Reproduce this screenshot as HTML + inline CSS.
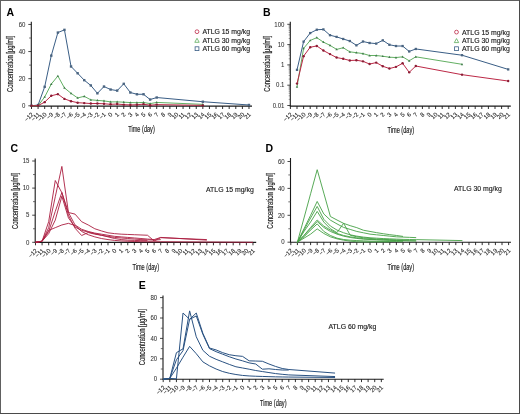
<!DOCTYPE html><html><head><meta charset="utf-8"><style>*{margin:0;padding:0}html,body{width:520px;height:414px;overflow:hidden;background:#fff}
svg{display:block;font-family:"Liberation Sans",sans-serif;will-change:transform}
body{-webkit-font-smoothing:antialiased}
.tl{font-size:6.4px;fill:#333;stroke:#333;stroke-width:0.06px}
.xl{font-size:6px;fill:#2a2a2a;stroke:#2a2a2a;stroke-width:0.1px}
.tt{font-size:8.4px;fill:#222;stroke:#222;stroke-width:0.18px}
.lg{font-size:6.9px;fill:#222;stroke:#222;stroke-width:0.15px}
.let{font-size:10.5px;font-weight:bold;fill:#000}
</style></head><body><svg width="520" height="414" viewBox="0 0 520 414"><rect x="0" y="0" width="520" height="414" fill="#fff"/><path d="M31.3 21.7V106.1H252" fill="none" stroke="#1a1a1a" stroke-width="1.1"/><text x="0" y="0" transform="translate(33.9 114.8) rotate(-45)" text-anchor="end" class="xl">−12</text><text x="0" y="0" transform="translate(40.49 114.8) rotate(-45)" text-anchor="end" class="xl">−11</text><text x="0" y="0" transform="translate(47.08 114.8) rotate(-45)" text-anchor="end" class="xl">−10</text><text x="0" y="0" transform="translate(53.67 114.8) rotate(-45)" text-anchor="end" class="xl">−9</text><text x="0" y="0" transform="translate(60.26 114.8) rotate(-45)" text-anchor="end" class="xl">−8</text><text x="0" y="0" transform="translate(66.85 114.8) rotate(-45)" text-anchor="end" class="xl">−7</text><text x="0" y="0" transform="translate(73.44 114.8) rotate(-45)" text-anchor="end" class="xl">−6</text><text x="0" y="0" transform="translate(80.03 114.8) rotate(-45)" text-anchor="end" class="xl">−5</text><text x="0" y="0" transform="translate(86.62 114.8) rotate(-45)" text-anchor="end" class="xl">−4</text><text x="0" y="0" transform="translate(93.21 114.8) rotate(-45)" text-anchor="end" class="xl">−3</text><text x="0" y="0" transform="translate(99.8 114.8) rotate(-45)" text-anchor="end" class="xl">−2</text><text x="0" y="0" transform="translate(106.39 114.8) rotate(-45)" text-anchor="end" class="xl">−1</text><text x="0" y="0" transform="translate(112.98 114.8) rotate(-45)" text-anchor="end" class="xl">0</text><text x="0" y="0" transform="translate(119.57 114.8) rotate(-45)" text-anchor="end" class="xl">1</text><text x="0" y="0" transform="translate(126.16 114.8) rotate(-45)" text-anchor="end" class="xl">2</text><text x="0" y="0" transform="translate(132.75 114.8) rotate(-45)" text-anchor="end" class="xl">3</text><text x="0" y="0" transform="translate(139.34 114.8) rotate(-45)" text-anchor="end" class="xl">4</text><text x="0" y="0" transform="translate(145.93 114.8) rotate(-45)" text-anchor="end" class="xl">5</text><text x="0" y="0" transform="translate(152.52 114.8) rotate(-45)" text-anchor="end" class="xl">6</text><text x="0" y="0" transform="translate(159.11 114.8) rotate(-45)" text-anchor="end" class="xl">7</text><text x="0" y="0" transform="translate(165.7 114.8) rotate(-45)" text-anchor="end" class="xl">8</text><text x="0" y="0" transform="translate(172.29 114.8) rotate(-45)" text-anchor="end" class="xl">9</text><text x="0" y="0" transform="translate(178.88 114.8) rotate(-45)" text-anchor="end" class="xl">10</text><text x="0" y="0" transform="translate(185.47 114.8) rotate(-45)" text-anchor="end" class="xl">11</text><text x="0" y="0" transform="translate(192.06 114.8) rotate(-45)" text-anchor="end" class="xl">12</text><text x="0" y="0" transform="translate(198.65 114.8) rotate(-45)" text-anchor="end" class="xl">13</text><text x="0" y="0" transform="translate(205.24 114.8) rotate(-45)" text-anchor="end" class="xl">14</text><text x="0" y="0" transform="translate(211.83 114.8) rotate(-45)" text-anchor="end" class="xl">15</text><text x="0" y="0" transform="translate(218.42 114.8) rotate(-45)" text-anchor="end" class="xl">16</text><text x="0" y="0" transform="translate(225.01 114.8) rotate(-45)" text-anchor="end" class="xl">17</text><text x="0" y="0" transform="translate(231.6 114.8) rotate(-45)" text-anchor="end" class="xl">18</text><text x="0" y="0" transform="translate(238.19 114.8) rotate(-45)" text-anchor="end" class="xl">19</text><text x="0" y="0" transform="translate(244.78 114.8) rotate(-45)" text-anchor="end" class="xl">20</text><text x="0" y="0" transform="translate(251.37 114.8) rotate(-45)" text-anchor="end" class="xl">21</text><path d="M31.5 106.1v2.9M38.09 106.1v2.9M44.68 106.1v2.9M51.27 106.1v2.9M57.86 106.1v2.9M64.45 106.1v2.9M71.04 106.1v2.9M77.63 106.1v2.9M84.22 106.1v2.9M90.81 106.1v2.9M97.4 106.1v2.9M103.99 106.1v2.9M110.58 106.1v2.9M117.17 106.1v2.9M123.76 106.1v2.9M130.35 106.1v2.9M136.94 106.1v2.9M143.53 106.1v2.9M150.12 106.1v2.9M156.71 106.1v2.9M163.3 106.1v2.9M169.89 106.1v2.9M176.48 106.1v2.9M183.07 106.1v2.9M189.66 106.1v2.9M196.25 106.1v2.9M202.84 106.1v2.9M209.43 106.1v2.9M216.02 106.1v2.9M222.61 106.1v2.9M229.2 106.1v2.9M235.79 106.1v2.9M242.38 106.1v2.9M248.97 106.1v2.9" stroke="#1a1a1a" stroke-width="0.9"/><text transform="translate(25.5 108) scale(0.95 1)" text-anchor="end" class="tl">0</text><text transform="translate(25.5 80.88) scale(0.95 1)" text-anchor="end" class="tl">20</text><text transform="translate(25.5 53.76) scale(0.95 1)" text-anchor="end" class="tl">40</text><text transform="translate(25.5 26.64) scale(0.95 1)" text-anchor="end" class="tl">60</text><path d="M28.3 105.8H31.3M28.3 78.68H31.3M28.3 51.56H31.3M28.3 24.44H31.3" stroke="#1a1a1a" stroke-width="0.8"/><path d="M29.1 92.24H31.3M29.1 65.12H31.3M29.1 38H31.3" stroke="#444" stroke-width="0.75"/><text transform="translate(13.2 63.9) rotate(-90) scale(0.7 1)" text-anchor="middle" class="tt">Concentration [µg/ml]</text><text transform="translate(141.5 132.1) scale(0.668 1)" text-anchor="middle" class="tt">Time (day)</text><text x="6.6" y="15.5" class="let">A</text><path d="M290.3 21.7V106.1H510.8" fill="none" stroke="#1a1a1a" stroke-width="1.1"/><text x="0" y="0" transform="translate(292.8 114.8) rotate(-45)" text-anchor="end" class="xl">−12</text><text x="0" y="0" transform="translate(299.4 114.8) rotate(-45)" text-anchor="end" class="xl">−11</text><text x="0" y="0" transform="translate(306 114.8) rotate(-45)" text-anchor="end" class="xl">−10</text><text x="0" y="0" transform="translate(312.6 114.8) rotate(-45)" text-anchor="end" class="xl">−9</text><text x="0" y="0" transform="translate(319.2 114.8) rotate(-45)" text-anchor="end" class="xl">−8</text><text x="0" y="0" transform="translate(325.8 114.8) rotate(-45)" text-anchor="end" class="xl">−7</text><text x="0" y="0" transform="translate(332.4 114.8) rotate(-45)" text-anchor="end" class="xl">−6</text><text x="0" y="0" transform="translate(339 114.8) rotate(-45)" text-anchor="end" class="xl">−5</text><text x="0" y="0" transform="translate(345.6 114.8) rotate(-45)" text-anchor="end" class="xl">−4</text><text x="0" y="0" transform="translate(352.2 114.8) rotate(-45)" text-anchor="end" class="xl">−3</text><text x="0" y="0" transform="translate(358.8 114.8) rotate(-45)" text-anchor="end" class="xl">−2</text><text x="0" y="0" transform="translate(365.4 114.8) rotate(-45)" text-anchor="end" class="xl">−1</text><text x="0" y="0" transform="translate(372 114.8) rotate(-45)" text-anchor="end" class="xl">0</text><text x="0" y="0" transform="translate(378.6 114.8) rotate(-45)" text-anchor="end" class="xl">1</text><text x="0" y="0" transform="translate(385.2 114.8) rotate(-45)" text-anchor="end" class="xl">2</text><text x="0" y="0" transform="translate(391.8 114.8) rotate(-45)" text-anchor="end" class="xl">3</text><text x="0" y="0" transform="translate(398.4 114.8) rotate(-45)" text-anchor="end" class="xl">4</text><text x="0" y="0" transform="translate(405 114.8) rotate(-45)" text-anchor="end" class="xl">5</text><text x="0" y="0" transform="translate(411.6 114.8) rotate(-45)" text-anchor="end" class="xl">6</text><text x="0" y="0" transform="translate(418.2 114.8) rotate(-45)" text-anchor="end" class="xl">7</text><text x="0" y="0" transform="translate(424.8 114.8) rotate(-45)" text-anchor="end" class="xl">8</text><text x="0" y="0" transform="translate(431.4 114.8) rotate(-45)" text-anchor="end" class="xl">9</text><text x="0" y="0" transform="translate(438 114.8) rotate(-45)" text-anchor="end" class="xl">10</text><text x="0" y="0" transform="translate(444.6 114.8) rotate(-45)" text-anchor="end" class="xl">11</text><text x="0" y="0" transform="translate(451.2 114.8) rotate(-45)" text-anchor="end" class="xl">12</text><text x="0" y="0" transform="translate(457.8 114.8) rotate(-45)" text-anchor="end" class="xl">13</text><text x="0" y="0" transform="translate(464.4 114.8) rotate(-45)" text-anchor="end" class="xl">14</text><text x="0" y="0" transform="translate(471 114.8) rotate(-45)" text-anchor="end" class="xl">15</text><text x="0" y="0" transform="translate(477.6 114.8) rotate(-45)" text-anchor="end" class="xl">16</text><text x="0" y="0" transform="translate(484.2 114.8) rotate(-45)" text-anchor="end" class="xl">17</text><text x="0" y="0" transform="translate(490.8 114.8) rotate(-45)" text-anchor="end" class="xl">18</text><text x="0" y="0" transform="translate(497.4 114.8) rotate(-45)" text-anchor="end" class="xl">19</text><text x="0" y="0" transform="translate(504 114.8) rotate(-45)" text-anchor="end" class="xl">20</text><text x="0" y="0" transform="translate(510.6 114.8) rotate(-45)" text-anchor="end" class="xl">21</text><path d="M290.4 106.1v2.9M297 106.1v2.9M303.6 106.1v2.9M310.2 106.1v2.9M316.8 106.1v2.9M323.4 106.1v2.9M330 106.1v2.9M336.6 106.1v2.9M343.2 106.1v2.9M349.8 106.1v2.9M356.4 106.1v2.9M363 106.1v2.9M369.6 106.1v2.9M376.2 106.1v2.9M382.8 106.1v2.9M389.4 106.1v2.9M396 106.1v2.9M402.6 106.1v2.9M409.2 106.1v2.9M415.8 106.1v2.9M422.4 106.1v2.9M429 106.1v2.9M435.6 106.1v2.9M442.2 106.1v2.9M448.8 106.1v2.9M455.4 106.1v2.9M462 106.1v2.9M468.6 106.1v2.9M475.2 106.1v2.9M481.8 106.1v2.9M488.4 106.1v2.9M495 106.1v2.9M501.6 106.1v2.9M508.2 106.1v2.9" stroke="#1a1a1a" stroke-width="0.9"/><text transform="translate(284.5 107.7) scale(0.95 1)" text-anchor="end" class="tl">0.01</text><text transform="translate(284.5 87.4) scale(0.95 1)" text-anchor="end" class="tl">0.1</text><text transform="translate(284.5 67.1) scale(0.95 1)" text-anchor="end" class="tl">1</text><text transform="translate(284.5 46.8) scale(0.95 1)" text-anchor="end" class="tl">10</text><text transform="translate(284.5 26.5) scale(0.95 1)" text-anchor="end" class="tl">100</text><path d="M287.3 105.5H290.3M287.3 85.2H290.3M287.3 64.9H290.3M287.3 44.6H290.3M287.3 24.3H290.3" stroke="#1a1a1a" stroke-width="0.8"/><path d="M288.7 99.39H290.3M288.7 95.81H290.3M288.7 93.28H290.3M288.7 91.31H290.3M288.7 89.7H290.3M288.7 88.34H290.3M288.7 87.17H290.3M288.7 86.13H290.3M288.7 79.09H290.3M288.7 75.51H290.3M288.7 72.98H290.3M288.7 71.01H290.3M288.7 69.4H290.3M288.7 68.04H290.3M288.7 66.87H290.3M288.7 65.83H290.3M288.7 58.79H290.3M288.7 55.21H290.3M288.7 52.68H290.3M288.7 50.71H290.3M288.7 49.1H290.3M288.7 47.74H290.3M288.7 46.57H290.3M288.7 45.53H290.3M288.7 38.49H290.3M288.7 34.91H290.3M288.7 32.38H290.3M288.7 30.41H290.3M288.7 28.8H290.3M288.7 27.44H290.3M288.7 26.27H290.3M288.7 25.23H290.3" stroke="#555" stroke-width="0.6"/><text transform="translate(270.3 63.8) rotate(-90) scale(0.7 1)" text-anchor="middle" class="tt">Concentration [µg/ml]</text><text transform="translate(400.8 132.6) scale(0.668 1)" text-anchor="middle" class="tt">Time (day)</text><text x="263" y="15.8" class="let">B</text><path d="M35.2 158.5V242.4H256.2" fill="none" stroke="#1a1a1a" stroke-width="1.1"/><text x="0" y="0" transform="translate(37.9 251.1) rotate(-45)" text-anchor="end" class="xl">−12</text><text x="0" y="0" transform="translate(44.49 251.1) rotate(-45)" text-anchor="end" class="xl">−11</text><text x="0" y="0" transform="translate(51.08 251.1) rotate(-45)" text-anchor="end" class="xl">−10</text><text x="0" y="0" transform="translate(57.67 251.1) rotate(-45)" text-anchor="end" class="xl">−9</text><text x="0" y="0" transform="translate(64.26 251.1) rotate(-45)" text-anchor="end" class="xl">−8</text><text x="0" y="0" transform="translate(70.85 251.1) rotate(-45)" text-anchor="end" class="xl">−7</text><text x="0" y="0" transform="translate(77.44 251.1) rotate(-45)" text-anchor="end" class="xl">−6</text><text x="0" y="0" transform="translate(84.03 251.1) rotate(-45)" text-anchor="end" class="xl">−5</text><text x="0" y="0" transform="translate(90.62 251.1) rotate(-45)" text-anchor="end" class="xl">−4</text><text x="0" y="0" transform="translate(97.21 251.1) rotate(-45)" text-anchor="end" class="xl">−3</text><text x="0" y="0" transform="translate(103.8 251.1) rotate(-45)" text-anchor="end" class="xl">−2</text><text x="0" y="0" transform="translate(110.39 251.1) rotate(-45)" text-anchor="end" class="xl">−1</text><text x="0" y="0" transform="translate(116.98 251.1) rotate(-45)" text-anchor="end" class="xl">0</text><text x="0" y="0" transform="translate(123.57 251.1) rotate(-45)" text-anchor="end" class="xl">1</text><text x="0" y="0" transform="translate(130.16 251.1) rotate(-45)" text-anchor="end" class="xl">2</text><text x="0" y="0" transform="translate(136.75 251.1) rotate(-45)" text-anchor="end" class="xl">3</text><text x="0" y="0" transform="translate(143.34 251.1) rotate(-45)" text-anchor="end" class="xl">4</text><text x="0" y="0" transform="translate(149.93 251.1) rotate(-45)" text-anchor="end" class="xl">5</text><text x="0" y="0" transform="translate(156.52 251.1) rotate(-45)" text-anchor="end" class="xl">6</text><text x="0" y="0" transform="translate(163.11 251.1) rotate(-45)" text-anchor="end" class="xl">7</text><text x="0" y="0" transform="translate(169.7 251.1) rotate(-45)" text-anchor="end" class="xl">8</text><text x="0" y="0" transform="translate(176.29 251.1) rotate(-45)" text-anchor="end" class="xl">9</text><text x="0" y="0" transform="translate(182.88 251.1) rotate(-45)" text-anchor="end" class="xl">10</text><text x="0" y="0" transform="translate(189.47 251.1) rotate(-45)" text-anchor="end" class="xl">11</text><text x="0" y="0" transform="translate(196.06 251.1) rotate(-45)" text-anchor="end" class="xl">12</text><text x="0" y="0" transform="translate(202.65 251.1) rotate(-45)" text-anchor="end" class="xl">13</text><text x="0" y="0" transform="translate(209.24 251.1) rotate(-45)" text-anchor="end" class="xl">14</text><text x="0" y="0" transform="translate(215.83 251.1) rotate(-45)" text-anchor="end" class="xl">15</text><text x="0" y="0" transform="translate(222.42 251.1) rotate(-45)" text-anchor="end" class="xl">16</text><text x="0" y="0" transform="translate(229.01 251.1) rotate(-45)" text-anchor="end" class="xl">17</text><text x="0" y="0" transform="translate(235.6 251.1) rotate(-45)" text-anchor="end" class="xl">18</text><text x="0" y="0" transform="translate(242.19 251.1) rotate(-45)" text-anchor="end" class="xl">19</text><text x="0" y="0" transform="translate(248.78 251.1) rotate(-45)" text-anchor="end" class="xl">20</text><text x="0" y="0" transform="translate(255.37 251.1) rotate(-45)" text-anchor="end" class="xl">21</text><path d="M35.5 242.4v2.9M42.09 242.4v2.9M48.68 242.4v2.9M55.27 242.4v2.9M61.86 242.4v2.9M68.45 242.4v2.9M75.04 242.4v2.9M81.63 242.4v2.9M88.22 242.4v2.9M94.81 242.4v2.9M101.4 242.4v2.9M107.99 242.4v2.9M114.58 242.4v2.9M121.17 242.4v2.9M127.76 242.4v2.9M134.35 242.4v2.9M140.94 242.4v2.9M147.53 242.4v2.9M154.12 242.4v2.9M160.71 242.4v2.9M167.3 242.4v2.9M173.89 242.4v2.9M180.48 242.4v2.9M187.07 242.4v2.9M193.66 242.4v2.9M200.25 242.4v2.9M206.84 242.4v2.9M213.43 242.4v2.9M220.02 242.4v2.9M226.61 242.4v2.9M233.2 242.4v2.9M239.79 242.4v2.9M246.38 242.4v2.9M252.97 242.4v2.9" stroke="#1a1a1a" stroke-width="0.9"/><text transform="translate(29.4 244.5) scale(0.95 1)" text-anchor="end" class="tl">0</text><text transform="translate(29.4 217.4) scale(0.95 1)" text-anchor="end" class="tl">5</text><text transform="translate(29.4 190.3) scale(0.95 1)" text-anchor="end" class="tl">10</text><text transform="translate(29.4 163.2) scale(0.95 1)" text-anchor="end" class="tl">15</text><path d="M32.2 242.3H35.2M32.2 215.2H35.2M32.2 188.1H35.2M32.2 161H35.2" stroke="#1a1a1a" stroke-width="0.8"/><path d="M33 228.75H35.2M33 201.65H35.2M33 174.55H35.2" stroke="#444" stroke-width="0.75"/><text transform="translate(18 200.9) rotate(-90) scale(0.7 1)" text-anchor="middle" class="tt">Concentration [µg/ml]</text><text transform="translate(145.75 269.5) scale(0.668 1)" text-anchor="middle" class="tt">Time (day)</text><text x="10.4" y="152.2" class="let">C</text><path d="M290.5 158V242.2H511" fill="none" stroke="#1a1a1a" stroke-width="1.1"/><text x="0" y="0" transform="translate(293.2 250.9) rotate(-45)" text-anchor="end" class="xl">−12</text><text x="0" y="0" transform="translate(299.8 250.9) rotate(-45)" text-anchor="end" class="xl">−11</text><text x="0" y="0" transform="translate(306.4 250.9) rotate(-45)" text-anchor="end" class="xl">−10</text><text x="0" y="0" transform="translate(313 250.9) rotate(-45)" text-anchor="end" class="xl">−9</text><text x="0" y="0" transform="translate(319.6 250.9) rotate(-45)" text-anchor="end" class="xl">−8</text><text x="0" y="0" transform="translate(326.2 250.9) rotate(-45)" text-anchor="end" class="xl">−7</text><text x="0" y="0" transform="translate(332.8 250.9) rotate(-45)" text-anchor="end" class="xl">−6</text><text x="0" y="0" transform="translate(339.4 250.9) rotate(-45)" text-anchor="end" class="xl">−5</text><text x="0" y="0" transform="translate(346 250.9) rotate(-45)" text-anchor="end" class="xl">−4</text><text x="0" y="0" transform="translate(352.6 250.9) rotate(-45)" text-anchor="end" class="xl">−3</text><text x="0" y="0" transform="translate(359.2 250.9) rotate(-45)" text-anchor="end" class="xl">−2</text><text x="0" y="0" transform="translate(365.8 250.9) rotate(-45)" text-anchor="end" class="xl">−1</text><text x="0" y="0" transform="translate(372.4 250.9) rotate(-45)" text-anchor="end" class="xl">0</text><text x="0" y="0" transform="translate(379 250.9) rotate(-45)" text-anchor="end" class="xl">1</text><text x="0" y="0" transform="translate(385.6 250.9) rotate(-45)" text-anchor="end" class="xl">2</text><text x="0" y="0" transform="translate(392.2 250.9) rotate(-45)" text-anchor="end" class="xl">3</text><text x="0" y="0" transform="translate(398.8 250.9) rotate(-45)" text-anchor="end" class="xl">4</text><text x="0" y="0" transform="translate(405.4 250.9) rotate(-45)" text-anchor="end" class="xl">5</text><text x="0" y="0" transform="translate(412 250.9) rotate(-45)" text-anchor="end" class="xl">6</text><text x="0" y="0" transform="translate(418.6 250.9) rotate(-45)" text-anchor="end" class="xl">7</text><text x="0" y="0" transform="translate(425.2 250.9) rotate(-45)" text-anchor="end" class="xl">8</text><text x="0" y="0" transform="translate(431.8 250.9) rotate(-45)" text-anchor="end" class="xl">9</text><text x="0" y="0" transform="translate(438.4 250.9) rotate(-45)" text-anchor="end" class="xl">10</text><text x="0" y="0" transform="translate(445 250.9) rotate(-45)" text-anchor="end" class="xl">11</text><text x="0" y="0" transform="translate(451.6 250.9) rotate(-45)" text-anchor="end" class="xl">12</text><text x="0" y="0" transform="translate(458.2 250.9) rotate(-45)" text-anchor="end" class="xl">13</text><text x="0" y="0" transform="translate(464.8 250.9) rotate(-45)" text-anchor="end" class="xl">14</text><text x="0" y="0" transform="translate(471.4 250.9) rotate(-45)" text-anchor="end" class="xl">15</text><text x="0" y="0" transform="translate(478 250.9) rotate(-45)" text-anchor="end" class="xl">16</text><text x="0" y="0" transform="translate(484.6 250.9) rotate(-45)" text-anchor="end" class="xl">17</text><text x="0" y="0" transform="translate(491.2 250.9) rotate(-45)" text-anchor="end" class="xl">18</text><text x="0" y="0" transform="translate(497.8 250.9) rotate(-45)" text-anchor="end" class="xl">19</text><text x="0" y="0" transform="translate(504.4 250.9) rotate(-45)" text-anchor="end" class="xl">20</text><text x="0" y="0" transform="translate(511 250.9) rotate(-45)" text-anchor="end" class="xl">21</text><path d="M290.8 242.2v2.9M297.4 242.2v2.9M304 242.2v2.9M310.6 242.2v2.9M317.2 242.2v2.9M323.8 242.2v2.9M330.4 242.2v2.9M337 242.2v2.9M343.6 242.2v2.9M350.2 242.2v2.9M356.8 242.2v2.9M363.4 242.2v2.9M370 242.2v2.9M376.6 242.2v2.9M383.2 242.2v2.9M389.8 242.2v2.9M396.4 242.2v2.9M403 242.2v2.9M409.6 242.2v2.9M416.2 242.2v2.9M422.8 242.2v2.9M429.4 242.2v2.9M436 242.2v2.9M442.6 242.2v2.9M449.2 242.2v2.9M455.8 242.2v2.9M462.4 242.2v2.9M469 242.2v2.9M475.6 242.2v2.9M482.2 242.2v2.9M488.8 242.2v2.9M495.4 242.2v2.9M502 242.2v2.9M508.6 242.2v2.9" stroke="#1a1a1a" stroke-width="0.9"/><text transform="translate(284.7 244.4) scale(0.95 1)" text-anchor="end" class="tl">0</text><text transform="translate(284.7 217.5) scale(0.95 1)" text-anchor="end" class="tl">20</text><text transform="translate(284.7 190.6) scale(0.95 1)" text-anchor="end" class="tl">40</text><text transform="translate(284.7 163.7) scale(0.95 1)" text-anchor="end" class="tl">60</text><path d="M287.5 242.2H290.5M287.5 215.3H290.5M287.5 188.4H290.5M287.5 161.5H290.5" stroke="#1a1a1a" stroke-width="0.8"/><path d="M288.3 228.75H290.5M288.3 201.85H290.5M288.3 174.95H290.5" stroke="#444" stroke-width="0.75"/><text transform="translate(272.9 200.8) rotate(-90) scale(0.7 1)" text-anchor="middle" class="tt">Concentration [µg/ml]</text><text transform="translate(400.75 269.5) scale(0.668 1)" text-anchor="middle" class="tt">Time (day)</text><text x="265.5" y="152.2" class="let">D</text><path d="M163 295.5V379.2H383.7" fill="none" stroke="#1a1a1a" stroke-width="1.1"/><text x="0" y="0" transform="translate(165.6 387.9) rotate(-45)" text-anchor="end" class="xl">−12</text><text x="0" y="0" transform="translate(172.21 387.9) rotate(-45)" text-anchor="end" class="xl">−11</text><text x="0" y="0" transform="translate(178.82 387.9) rotate(-45)" text-anchor="end" class="xl">−10</text><text x="0" y="0" transform="translate(185.43 387.9) rotate(-45)" text-anchor="end" class="xl">−9</text><text x="0" y="0" transform="translate(192.04 387.9) rotate(-45)" text-anchor="end" class="xl">−8</text><text x="0" y="0" transform="translate(198.65 387.9) rotate(-45)" text-anchor="end" class="xl">−7</text><text x="0" y="0" transform="translate(205.26 387.9) rotate(-45)" text-anchor="end" class="xl">−6</text><text x="0" y="0" transform="translate(211.87 387.9) rotate(-45)" text-anchor="end" class="xl">−5</text><text x="0" y="0" transform="translate(218.48 387.9) rotate(-45)" text-anchor="end" class="xl">−4</text><text x="0" y="0" transform="translate(225.09 387.9) rotate(-45)" text-anchor="end" class="xl">−3</text><text x="0" y="0" transform="translate(231.7 387.9) rotate(-45)" text-anchor="end" class="xl">−2</text><text x="0" y="0" transform="translate(238.31 387.9) rotate(-45)" text-anchor="end" class="xl">−1</text><text x="0" y="0" transform="translate(244.92 387.9) rotate(-45)" text-anchor="end" class="xl">0</text><text x="0" y="0" transform="translate(251.53 387.9) rotate(-45)" text-anchor="end" class="xl">1</text><text x="0" y="0" transform="translate(258.14 387.9) rotate(-45)" text-anchor="end" class="xl">2</text><text x="0" y="0" transform="translate(264.75 387.9) rotate(-45)" text-anchor="end" class="xl">3</text><text x="0" y="0" transform="translate(271.36 387.9) rotate(-45)" text-anchor="end" class="xl">4</text><text x="0" y="0" transform="translate(277.97 387.9) rotate(-45)" text-anchor="end" class="xl">5</text><text x="0" y="0" transform="translate(284.58 387.9) rotate(-45)" text-anchor="end" class="xl">6</text><text x="0" y="0" transform="translate(291.19 387.9) rotate(-45)" text-anchor="end" class="xl">7</text><text x="0" y="0" transform="translate(297.8 387.9) rotate(-45)" text-anchor="end" class="xl">8</text><text x="0" y="0" transform="translate(304.41 387.9) rotate(-45)" text-anchor="end" class="xl">9</text><text x="0" y="0" transform="translate(311.02 387.9) rotate(-45)" text-anchor="end" class="xl">10</text><text x="0" y="0" transform="translate(317.63 387.9) rotate(-45)" text-anchor="end" class="xl">11</text><text x="0" y="0" transform="translate(324.24 387.9) rotate(-45)" text-anchor="end" class="xl">12</text><text x="0" y="0" transform="translate(330.85 387.9) rotate(-45)" text-anchor="end" class="xl">13</text><text x="0" y="0" transform="translate(337.46 387.9) rotate(-45)" text-anchor="end" class="xl">14</text><text x="0" y="0" transform="translate(344.07 387.9) rotate(-45)" text-anchor="end" class="xl">15</text><text x="0" y="0" transform="translate(350.68 387.9) rotate(-45)" text-anchor="end" class="xl">16</text><text x="0" y="0" transform="translate(357.29 387.9) rotate(-45)" text-anchor="end" class="xl">17</text><text x="0" y="0" transform="translate(363.9 387.9) rotate(-45)" text-anchor="end" class="xl">18</text><text x="0" y="0" transform="translate(370.51 387.9) rotate(-45)" text-anchor="end" class="xl">19</text><text x="0" y="0" transform="translate(377.12 387.9) rotate(-45)" text-anchor="end" class="xl">20</text><text x="0" y="0" transform="translate(383.73 387.9) rotate(-45)" text-anchor="end" class="xl">21</text><path d="M163.2 379.2v2.9M169.81 379.2v2.9M176.42 379.2v2.9M183.03 379.2v2.9M189.64 379.2v2.9M196.25 379.2v2.9M202.86 379.2v2.9M209.47 379.2v2.9M216.08 379.2v2.9M222.69 379.2v2.9M229.3 379.2v2.9M235.91 379.2v2.9M242.52 379.2v2.9M249.13 379.2v2.9M255.74 379.2v2.9M262.35 379.2v2.9M268.96 379.2v2.9M275.57 379.2v2.9M282.18 379.2v2.9M288.79 379.2v2.9M295.4 379.2v2.9M302.01 379.2v2.9M308.62 379.2v2.9M315.23 379.2v2.9M321.84 379.2v2.9M328.45 379.2v2.9M335.06 379.2v2.9M341.67 379.2v2.9M348.28 379.2v2.9M354.89 379.2v2.9M361.5 379.2v2.9M368.11 379.2v2.9M374.72 379.2v2.9M381.33 379.2v2.9" stroke="#1a1a1a" stroke-width="0.9"/><text transform="translate(157.2 381.4) scale(0.95 1)" text-anchor="end" class="tl">0</text><text transform="translate(157.2 361) scale(0.95 1)" text-anchor="end" class="tl">20</text><text transform="translate(157.2 340.6) scale(0.95 1)" text-anchor="end" class="tl">40</text><text transform="translate(157.2 320.2) scale(0.95 1)" text-anchor="end" class="tl">60</text><text transform="translate(157.2 299.8) scale(0.95 1)" text-anchor="end" class="tl">80</text><path d="M160 379.2H163M160 358.8H163M160 338.4H163M160 318H163M160 297.6H163" stroke="#1a1a1a" stroke-width="0.8"/><path d="M160.8 369H163M160.8 348.6H163M160.8 328.2H163M160.8 307.8H163" stroke="#444" stroke-width="0.75"/><text transform="translate(145.2 337.2) rotate(-90) scale(0.7 1)" text-anchor="middle" class="tt">Concentration [µg/ml]</text><text transform="translate(273.25 405.6) scale(0.668 1)" text-anchor="middle" class="tt">Time (day)</text><text x="138.8" y="289.1" class="let">E</text><polyline points="31.5,105.8 38.09,105.03 44.68,86.82 51.27,55.63 57.86,32.58 64.45,29.86 71.04,66.48 77.63,73.26 84.22,80.17 90.81,85.46 97.4,93.32 103.99,86.54 110.58,89.53 117.17,90.61 123.76,83.83 130.35,92.51 136.94,94.27 143.53,94.27 150.12,99.56 156.71,97.53 202.84,101.73 248.97,104.99" fill="none" stroke="#3a5e86" stroke-width="1.0" stroke-linejoin="round"/><rect x="30.3" y="104.6" width="2.4" height="2.4" fill="#4a6480"/><rect x="36.89" y="103.83" width="2.4" height="2.4" fill="#4a6480"/><rect x="43.48" y="85.62" width="2.4" height="2.4" fill="#4a6480"/><rect x="50.07" y="54.43" width="2.4" height="2.4" fill="#4a6480"/><rect x="56.66" y="31.38" width="2.4" height="2.4" fill="#4a6480"/><rect x="63.25" y="28.66" width="2.4" height="2.4" fill="#4a6480"/><rect x="69.84" y="65.28" width="2.4" height="2.4" fill="#4a6480"/><rect x="76.43" y="72.06" width="2.4" height="2.4" fill="#4a6480"/><rect x="83.02" y="78.97" width="2.4" height="2.4" fill="#4a6480"/><rect x="89.61" y="84.26" width="2.4" height="2.4" fill="#4a6480"/><rect x="96.2" y="92.12" width="2.4" height="2.4" fill="#4a6480"/><rect x="102.79" y="85.34" width="2.4" height="2.4" fill="#4a6480"/><rect x="109.38" y="88.33" width="2.4" height="2.4" fill="#4a6480"/><rect x="115.97" y="89.41" width="2.4" height="2.4" fill="#4a6480"/><rect x="122.56" y="82.63" width="2.4" height="2.4" fill="#4a6480"/><rect x="129.15" y="91.31" width="2.4" height="2.4" fill="#4a6480"/><rect x="135.74" y="93.07" width="2.4" height="2.4" fill="#4a6480"/><rect x="142.33" y="93.07" width="2.4" height="2.4" fill="#4a6480"/><rect x="148.92" y="98.36" width="2.4" height="2.4" fill="#4a6480"/><rect x="155.51" y="96.33" width="2.4" height="2.4" fill="#4a6480"/><rect x="201.64" y="100.53" width="2.4" height="2.4" fill="#4a6480"/><rect x="247.77" y="103.79" width="2.4" height="2.4" fill="#4a6480"/><polyline points="31.5,105.8 38.09,105.69 44.68,96.99 51.27,84.1 57.86,75.97 64.45,87.9 71.04,93.32 77.63,97.94 84.22,96.31 90.81,99.83 97.4,100.38 103.99,100.92 110.58,101.87 117.17,101.87 123.76,102.18 130.35,102.55 136.94,102.68 143.53,102.41 150.12,103.63 156.71,102.41 202.84,104.35" fill="none" stroke="#50a650" stroke-width="0.9" stroke-linejoin="round"/><path d="M31.5 104.48L32.71 106.68H30.29Z" fill="#3f7a4a"/><path d="M38.09 104.37L39.3 106.57H36.88Z" fill="#3f7a4a"/><path d="M44.68 95.67L45.89 97.87H43.47Z" fill="#3f7a4a"/><path d="M51.27 82.78L52.48 84.98H50.06Z" fill="#3f7a4a"/><path d="M57.86 74.65L59.07 76.85H56.65Z" fill="#3f7a4a"/><path d="M64.45 86.58L65.66 88.78H63.24Z" fill="#3f7a4a"/><path d="M71.04 92L72.25 94.2H69.83Z" fill="#3f7a4a"/><path d="M77.63 96.62L78.84 98.82H76.42Z" fill="#3f7a4a"/><path d="M84.22 94.99L85.43 97.19H83.01Z" fill="#3f7a4a"/><path d="M90.81 98.51L92.02 100.71H89.6Z" fill="#3f7a4a"/><path d="M97.4 99.06L98.61 101.26H96.19Z" fill="#3f7a4a"/><path d="M103.99 99.6L105.2 101.8H102.78Z" fill="#3f7a4a"/><path d="M110.58 100.55L111.79 102.75H109.37Z" fill="#3f7a4a"/><path d="M117.17 100.55L118.38 102.75H115.96Z" fill="#3f7a4a"/><path d="M123.76 100.86L124.97 103.06H122.55Z" fill="#3f7a4a"/><path d="M130.35 101.23L131.56 103.43H129.14Z" fill="#3f7a4a"/><path d="M136.94 101.36L138.15 103.56H135.73Z" fill="#3f7a4a"/><path d="M143.53 101.09L144.74 103.29H142.32Z" fill="#3f7a4a"/><path d="M150.12 102.31L151.33 104.51H148.91Z" fill="#3f7a4a"/><path d="M156.71 101.09L157.92 103.29H155.5Z" fill="#3f7a4a"/><path d="M202.84 103.03L204.05 105.23H201.63Z" fill="#3f7a4a"/><polyline points="31.5,105.8 38.09,105.64 44.68,102.14 51.27,95.77 57.86,94.14 64.45,98.88 71.04,101.19 77.63,102.68 84.22,103.09 90.81,103.56 97.4,103.49 103.99,103.77 110.58,104.31 117.17,104.04 123.76,104.63 130.35,104.91 136.94,104.72 143.53,104.17 150.12,105.22 156.71,104.61 202.84,105.35" fill="none" stroke="#bc2846" stroke-width="1.0" stroke-linejoin="round"/><circle cx="31.5" cy="105.8" r="1.2" fill="#8a1c34"/><circle cx="38.09" cy="105.64" r="1.2" fill="#8a1c34"/><circle cx="44.68" cy="102.14" r="1.2" fill="#8a1c34"/><circle cx="51.27" cy="95.77" r="1.2" fill="#8a1c34"/><circle cx="57.86" cy="94.14" r="1.2" fill="#8a1c34"/><circle cx="64.45" cy="98.88" r="1.2" fill="#8a1c34"/><circle cx="71.04" cy="101.19" r="1.2" fill="#8a1c34"/><circle cx="77.63" cy="102.68" r="1.2" fill="#8a1c34"/><circle cx="84.22" cy="103.09" r="1.2" fill="#8a1c34"/><circle cx="90.81" cy="103.56" r="1.2" fill="#8a1c34"/><circle cx="97.4" cy="103.49" r="1.2" fill="#8a1c34"/><circle cx="103.99" cy="103.77" r="1.2" fill="#8a1c34"/><circle cx="110.58" cy="104.31" r="1.2" fill="#8a1c34"/><circle cx="117.17" cy="104.04" r="1.2" fill="#8a1c34"/><circle cx="123.76" cy="104.63" r="1.2" fill="#8a1c34"/><circle cx="130.35" cy="104.91" r="1.2" fill="#8a1c34"/><circle cx="136.94" cy="104.72" r="1.2" fill="#8a1c34"/><circle cx="143.53" cy="104.17" r="1.2" fill="#8a1c34"/><circle cx="150.12" cy="105.22" r="1.2" fill="#8a1c34"/><circle cx="156.71" cy="104.61" r="1.2" fill="#8a1c34"/><circle cx="202.84" cy="105.35" r="1.2" fill="#8a1c34"/><polyline points="297,69.86 303.6,41.63 310.2,33.07 316.8,29.73 323.4,29.41 330,35.21 336.6,36.88 343.2,38.99 349.8,41.03 356.4,45.34 363,41.51 369.6,42.99 376.2,43.6 382.8,40.35 389.4,44.78 396,46.03 402.6,46.03 409.2,51.45 415.8,48.96 462,55.21 508.2,69.4" fill="none" stroke="#3a5e86" stroke-width="1.0" stroke-linejoin="round"/><rect x="295.85" y="68.71" width="2.3" height="2.3" fill="#4a6480"/><rect x="302.45" y="40.48" width="2.3" height="2.3" fill="#4a6480"/><rect x="309.05" y="31.92" width="2.3" height="2.3" fill="#4a6480"/><rect x="315.65" y="28.58" width="2.3" height="2.3" fill="#4a6480"/><rect x="322.25" y="28.26" width="2.3" height="2.3" fill="#4a6480"/><rect x="328.85" y="34.06" width="2.3" height="2.3" fill="#4a6480"/><rect x="335.45" y="35.73" width="2.3" height="2.3" fill="#4a6480"/><rect x="342.05" y="37.84" width="2.3" height="2.3" fill="#4a6480"/><rect x="348.65" y="39.88" width="2.3" height="2.3" fill="#4a6480"/><rect x="355.25" y="44.19" width="2.3" height="2.3" fill="#4a6480"/><rect x="361.85" y="40.36" width="2.3" height="2.3" fill="#4a6480"/><rect x="368.45" y="41.84" width="2.3" height="2.3" fill="#4a6480"/><rect x="375.05" y="42.45" width="2.3" height="2.3" fill="#4a6480"/><rect x="381.65" y="39.2" width="2.3" height="2.3" fill="#4a6480"/><rect x="388.25" y="43.63" width="2.3" height="2.3" fill="#4a6480"/><rect x="394.85" y="44.88" width="2.3" height="2.3" fill="#4a6480"/><rect x="401.45" y="44.88" width="2.3" height="2.3" fill="#4a6480"/><rect x="408.05" y="50.3" width="2.3" height="2.3" fill="#4a6480"/><rect x="414.65" y="47.81" width="2.3" height="2.3" fill="#4a6480"/><rect x="460.85" y="54.06" width="2.3" height="2.3" fill="#4a6480"/><rect x="507.05" y="68.25" width="2.3" height="2.3" fill="#4a6480"/><polyline points="297,86.84 303.6,48.4 310.2,40.46 316.8,37.65 323.4,42.15 330,45.34 336.6,49.4 343.2,47.74 349.8,51.84 356.4,52.68 363,53.61 369.6,55.51 376.2,55.51 382.8,56.24 389.4,57.18 396,57.56 402.6,56.82 409.2,60.76 415.8,56.82 462,64.3" fill="none" stroke="#50a650" stroke-width="0.9" stroke-linejoin="round"/><path d="M297 85.52L298.21 87.72H295.79Z" fill="#3f7a4a"/><path d="M303.6 47.08L304.81 49.28H302.39Z" fill="#3f7a4a"/><path d="M310.2 39.14L311.41 41.34H308.99Z" fill="#3f7a4a"/><path d="M316.8 36.33L318.01 38.53H315.59Z" fill="#3f7a4a"/><path d="M323.4 40.83L324.61 43.03H322.19Z" fill="#3f7a4a"/><path d="M330 44.02L331.21 46.22H328.79Z" fill="#3f7a4a"/><path d="M336.6 48.08L337.81 50.28H335.39Z" fill="#3f7a4a"/><path d="M343.2 46.42L344.41 48.62H341.99Z" fill="#3f7a4a"/><path d="M349.8 50.52L351.01 52.72H348.59Z" fill="#3f7a4a"/><path d="M356.4 51.36L357.61 53.56H355.19Z" fill="#3f7a4a"/><path d="M363 52.29L364.21 54.49H361.79Z" fill="#3f7a4a"/><path d="M369.6 54.19L370.81 56.39H368.39Z" fill="#3f7a4a"/><path d="M376.2 54.19L377.41 56.39H374.99Z" fill="#3f7a4a"/><path d="M382.8 54.92L384.01 57.12H381.59Z" fill="#3f7a4a"/><path d="M389.4 55.86L390.61 58.06H388.19Z" fill="#3f7a4a"/><path d="M396 56.24L397.21 58.44H394.79Z" fill="#3f7a4a"/><path d="M402.6 55.5L403.81 57.7H401.39Z" fill="#3f7a4a"/><path d="M409.2 59.44L410.41 61.64H407.99Z" fill="#3f7a4a"/><path d="M415.8 55.5L417.01 57.7H414.59Z" fill="#3f7a4a"/><path d="M462 62.98L463.21 65.18H460.79Z" fill="#3f7a4a"/><polyline points="297,83.59 303.6,56.14 310.2,47.25 316.8,45.93 323.4,50.54 330,54.11 336.6,57.56 343.2,58.79 349.8,60.49 356.4,60.22 363,61.33 369.6,64.06 376.2,62.59 382.8,66.23 389.4,68.56 396,66.87 402.6,63.29 409.2,72.34 415.8,66.03 462,74.67 508.2,81.06" fill="none" stroke="#bc2846" stroke-width="1.0" stroke-linejoin="round"/><circle cx="297" cy="83.59" r="1.2" fill="#8a1c34"/><circle cx="303.6" cy="56.14" r="1.2" fill="#8a1c34"/><circle cx="310.2" cy="47.25" r="1.2" fill="#8a1c34"/><circle cx="316.8" cy="45.93" r="1.2" fill="#8a1c34"/><circle cx="323.4" cy="50.54" r="1.2" fill="#8a1c34"/><circle cx="330" cy="54.11" r="1.2" fill="#8a1c34"/><circle cx="336.6" cy="57.56" r="1.2" fill="#8a1c34"/><circle cx="343.2" cy="58.79" r="1.2" fill="#8a1c34"/><circle cx="349.8" cy="60.49" r="1.2" fill="#8a1c34"/><circle cx="356.4" cy="60.22" r="1.2" fill="#8a1c34"/><circle cx="363" cy="61.33" r="1.2" fill="#8a1c34"/><circle cx="369.6" cy="64.06" r="1.2" fill="#8a1c34"/><circle cx="376.2" cy="62.59" r="1.2" fill="#8a1c34"/><circle cx="382.8" cy="66.23" r="1.2" fill="#8a1c34"/><circle cx="389.4" cy="68.56" r="1.2" fill="#8a1c34"/><circle cx="396" cy="66.87" r="1.2" fill="#8a1c34"/><circle cx="402.6" cy="63.29" r="1.2" fill="#8a1c34"/><circle cx="409.2" cy="72.34" r="1.2" fill="#8a1c34"/><circle cx="415.8" cy="66.03" r="1.2" fill="#8a1c34"/><circle cx="462" cy="74.67" r="1.2" fill="#8a1c34"/><circle cx="508.2" cy="81.06" r="1.2" fill="#8a1c34"/><polyline points="35.5,242.3 42.09,241.22 48.68,227.67 55.27,196.77 61.86,166.42 68.45,212.49 75.04,224.96 81.63,229.29 88.22,231.46 94.81,233.09 101.4,234.17 107.99,235.25 114.58,236.34 121.17,236.88 127.76,237.42 134.35,237.96 140.94,238.51 147.53,239.05 154.12,239.59 160.71,237.42 206.84,240.13" fill="none" stroke="#aa1d3f" stroke-width="0.9" stroke-linejoin="round"/><polyline points="35.5,242.3 42.09,241.22 48.68,221.7 55.27,180.51 61.86,192.71 68.45,215.2 75.04,228.21 81.63,235.53 88.22,232.54 94.81,234.17 101.4,235.25 107.99,236.34 114.58,237.42 121.17,237.96 127.76,238.51 134.35,239.05 140.94,239.59 147.53,239.86 154.12,240.13 160.71,239.59" fill="none" stroke="#aa1d3f" stroke-width="0.9" stroke-linejoin="round"/><polyline points="35.5,242.3 42.09,241.22 48.68,231.46 55.27,211.41 61.86,192.44 68.45,212.49 75.04,214.12 81.63,221.7 88.22,224.96 94.81,228.75 101.4,230.92 107.99,232.81 114.58,233.63 121.17,234.17 127.76,234.44 134.35,234.71 140.94,234.98 147.53,235.25 154.12,240.95 160.71,237.69 206.84,239.59" fill="none" stroke="#aa1d3f" stroke-width="0.9" stroke-linejoin="round"/><polyline points="35.5,242.3 42.09,241.22 48.68,233.63 55.27,220.08 61.86,196.23 68.45,217.91 75.04,227.12 81.63,230.38 88.22,232 94.81,233.63 101.4,235.25 107.99,236.88 114.58,238.51 121.17,239.59 127.76,240.13 134.35,240.4 140.94,240.67 147.53,240.67" fill="none" stroke="#aa1d3f" stroke-width="0.9" stroke-linejoin="round"/><polyline points="35.5,242.3 42.09,241.22 48.68,230.38 55.27,227.67 61.86,224.96 68.45,223.33 75.04,225.5 81.63,231.46 88.22,234.71 94.81,236.88 101.4,238.51 107.99,239.59 114.58,240.4 121.17,240.95 127.76,241.22 134.35,241.49 140.94,241.76 147.53,241.76 154.12,241.76 160.71,241.76 206.84,242.03 252.97,242.3" fill="none" stroke="#aa1d3f" stroke-width="0.9" stroke-linejoin="round"/><polyline points="297.4,242.2 304,217.99 310.6,193.78 317.2,169.7 323.8,193.11 330.4,216.51 337,220.01 343.6,223.37 350.2,225.66 356.8,227.67 363.4,230.23 370,231.44 376.6,232.65 383.2,233.73 389.8,234.67 396.4,235.47 403,236.42" fill="none" stroke="#45a045" stroke-width="0.9" stroke-linejoin="round"/><polyline points="297.4,242.2 304,228.75 310.6,215.3 317.2,201.45 323.8,213.95 330.4,220.14 337,223.91 343.6,227.41 350.2,229.42 356.8,231.44 363.4,232.78 370,234.13 376.6,234.8 383.2,235.47 389.8,236.15 396.4,236.82 403,237.09 409.6,237.36 416.2,237.63" fill="none" stroke="#45a045" stroke-width="0.9" stroke-linejoin="round"/><polyline points="297.4,242.2 304,230.09 310.6,217.99 317.2,206.42 323.8,219.33 330.4,226.06 337,230.09 343.6,232.78 350.2,234.8 356.8,236.15 363.4,237.09 370,237.76 376.6,238.16 383.2,238.57 389.8,238.84 396.4,239.11 403,239.38 409.6,239.51 416.2,239.64 462.4,240.59" fill="none" stroke="#45a045" stroke-width="0.9" stroke-linejoin="round"/><polyline points="297.4,242.2 304,231.44 310.6,222.02 317.2,211.4 323.8,222.02 330.4,228.75 337,232.65 343.6,223.24 350.2,235.21 356.8,236.82 363.4,237.76 370,238.43 376.6,238.97 383.2,239.38 389.8,239.64 396.4,239.91 403,240.18" fill="none" stroke="#45a045" stroke-width="0.9" stroke-linejoin="round"/><polyline points="297.4,242.2 304,235.47 310.6,228.75 317.2,221.49 323.8,227.41 330.4,231.44 337,234.13 343.6,236.15 350.2,237.49 356.8,238.43 363.4,239.11 370,239.51 376.6,239.78 383.2,240.05 389.8,240.32 396.4,240.59 403,240.72 409.6,240.85 416.2,240.99" fill="none" stroke="#45a045" stroke-width="0.9" stroke-linejoin="round"/><polyline points="297.4,242.2 304,236.82 310.6,230.09 317.2,223.91 323.8,231.44 330.4,235.47 337,238.16 343.6,239.51 350.2,240.18 356.8,240.59 363.4,240.85 370,241.12 376.6,241.26 383.2,241.39 389.8,241.53 396.4,241.53 403,241.66" fill="none" stroke="#45a045" stroke-width="0.9" stroke-linejoin="round"/><polyline points="297.4,242.2 304,238.16 310.6,234.13 317.2,228.88 323.8,233.46 330.4,236.82 337,238.84 343.6,240.18 350.2,241.12 356.8,241.8 363.4,241.93 370,241.93 376.6,241.93 383.2,241.93 389.8,241.93" fill="none" stroke="#45a045" stroke-width="0.9" stroke-linejoin="round"/><polyline points="297.4,242.2 304,235.47 310.6,227.41 317.2,220.01 323.8,226.06 330.4,230.09 337,233.46 343.6,235.47 350.2,236.82 356.8,237.9 363.4,238.7 370,239.24 376.6,239.64 383.2,239.91 389.8,240.18 396.4,240.45 403,240.59 409.6,240.72 416.2,240.85" fill="none" stroke="#45a045" stroke-width="0.9" stroke-linejoin="round"/><polyline points="163.2,379.2 169.81,378.38 176.42,359.82 183.03,350.64 189.64,319.33 196.25,313 202.86,333.3 209.47,347.99 216.08,349.93 222.69,352.68 229.3,354.72 235.91,355.74 242.52,356.35 249.13,360.84 255.74,361.04 262.35,361.25 268.96,364 275.57,366.45 282.18,368.49 288.79,369.51 335.06,373.08" fill="none" stroke="#2a5282" stroke-width="1.0" stroke-linejoin="round"/><polyline points="163.2,379.2 169.81,378.38 176.42,378.89 183.03,313 189.64,319.33 196.25,315.96 202.86,334.32 209.47,348.6 216.08,351.66 222.69,354.21 229.3,356.76 235.91,359 242.52,360.84 249.13,362.88 255.74,364 262.35,369.2 268.96,368.8 275.57,369.51 282.18,370.02 288.79,370.02" fill="none" stroke="#2a5282" stroke-width="1.0" stroke-linejoin="round"/><polyline points="163.2,379.2 169.81,378.38 176.42,352.68 183.03,348.8 189.64,310.86 196.25,336.77 202.86,350.33 209.47,356.25 216.08,359.31 222.69,361.86 229.3,364.41 235.91,366.76 242.52,367.98 249.13,369.2 255.74,370.53 262.35,371.55 268.96,372.57 275.57,373.59 282.18,374.3 288.79,374.92 335.06,376.55" fill="none" stroke="#2a5282" stroke-width="1.0" stroke-linejoin="round"/><polyline points="163.2,379.2 169.81,378.38 176.42,368.18 183.03,357.17 189.64,346.36 196.25,353.7 202.86,361.86 209.47,365.84 216.08,369 222.69,371.55 229.3,373.28 235.91,374.51 242.52,375.43 249.13,375.94 255.74,376.24 262.35,376.45 268.96,376.65 275.57,376.85 282.18,376.96 288.79,377.06 335.06,377.47" fill="none" stroke="#2a5282" stroke-width="1.0" stroke-linejoin="round"/><circle cx="197" cy="31.7" r="1.9" fill="none" stroke="#bc2846" stroke-width="0.8"/><path d="M197 38.3L199.2 42.3H194.8Z" fill="none" stroke="#50a650" stroke-width="0.75"/><rect x="195.1" y="46.8" width="3.8" height="3.8" fill="none" stroke="#3a5e86" stroke-width="0.8"/><text x="202.4" y="34.2" class="lg">ATLG 15 mg/kg</text><text x="202.4" y="43" class="lg">ATLG 30 mg/kg</text><text x="202.4" y="51.2" class="lg">ATLG 60 mg/kg</text><circle cx="456.5" cy="32.1" r="1.9" fill="none" stroke="#bc2846" stroke-width="0.8"/><path d="M456.5 38.6L458.7 42.6H454.3Z" fill="none" stroke="#50a650" stroke-width="0.75"/><rect x="454.6" y="46.8" width="3.8" height="3.8" fill="none" stroke="#3a5e86" stroke-width="0.8"/><text x="462" y="34.6" class="lg">ATLG 15 mg/kg</text><text x="462" y="43.3" class="lg">ATLG 30 mg/kg</text><text x="462" y="51.2" class="lg">ATLG 60 mg/kg</text><text x="206" y="192.3" class="lg">ATLG 15 mg/kg</text><text x="454" y="191" class="lg">ATLG 30 mg/kg</text><text x="328.5" y="328.75" class="lg">ATLG 60 mg/kg</text><path d="M0 0.5H520M0.5 0V414" stroke="#606060" stroke-width="1"/><path d="M519.5 0V414M0 413.5H520" stroke="#4a4a4a" stroke-width="1"/></svg></body></html>
